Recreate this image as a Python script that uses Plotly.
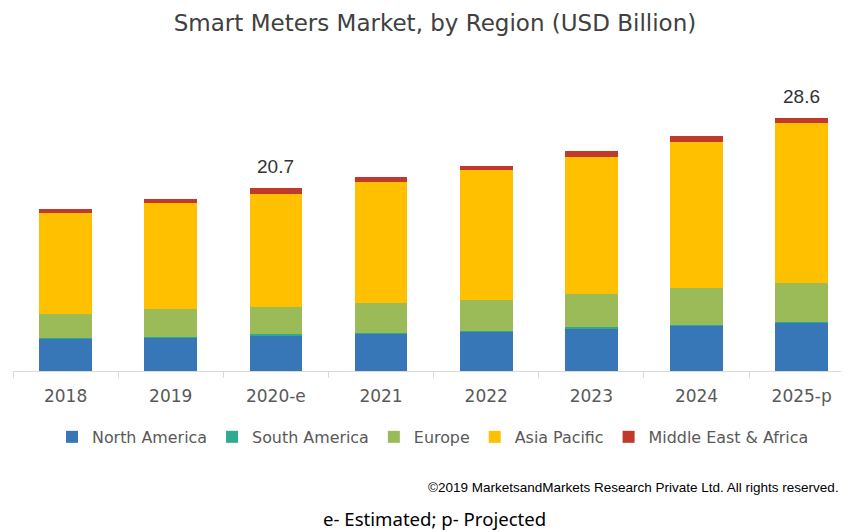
import plotly.graph_objects as go

years = ["2018", "2019", "2020-e", "2021", "2022", "2023", "2024", "2025-p"]
north_america = [3.62, 3.77, 4.07, 4.27, 4.50, 4.84, 5.13, 5.45]
south_america = [0.06, 0.06, 0.07, 0.07, 0.08, 0.08, 0.09, 0.09]
europe = [2.80, 3.18, 3.15, 3.35, 3.48, 3.80, 4.15, 4.45]
asia_pacific = [11.44, 12.00, 12.78, 13.65, 14.62, 15.46, 16.48, 18.00]
mea = [0.45, 0.49, 0.63, 0.57, 0.53, 0.68, 0.68, 0.61]
labelled = {"2020-e": "20.7", "2025-p": "28.6"}

series = [
    ("North America", north_america, "#3776B7"),
    ("South America", south_america, "#2EAA8E"),
    ("Europe", europe, "#9BBB59"),
    ("Asia Pacific", asia_pacific, "#FFC000"),
    ("Middle East & Africa", mea, "#C0392B"),
]

W, H = 841, 524  # page body adds an 8px margin in the browser

fig = go.Figure()
for name, vals, col in series:
    fig.add_trace(go.Bar(x=years, y=vals, name=name, marker_color=col,
                         marker_line_width=0, width=0.5))

totals = [sum(v) for v in zip(north_america, south_america, europe, asia_pacific, mea)]
for yr, tot in zip(years, totals):
    if yr in labelled:
        fig.add_annotation(x=yr, y=tot, text=labelled[yr], showarrow=False,
                           yanchor="bottom", yshift=9,
                           font=dict(family="Liberation Sans", size=19, color="#333333"))

fig.add_annotation(xref="paper", yref="paper", x=0.99, y=-0.41,
                   xanchor="right", yanchor="middle", showarrow=False,
                   text="©2019 MarketsandMarkets Research Private Ltd. All rights reserved.",
                   font=dict(family="Liberation Sans", size=13.5, color="#000000"))
fig.add_annotation(xref="paper", yref="paper", x=0.5036, y=-0.52,
                   xanchor="center", yanchor="middle", showarrow=False,
                   text="e- Estimated; p- Projected",
                   font=dict(family="Noto Sans", size=18.6, color="#000000"))

fig.update_layout(
    width=W, height=H,
    margin=dict(l=5, r=0, t=80, b=161),
    barmode="stack",
    plot_bgcolor="white", paper_bgcolor="white",
    title=dict(text="Smart Meters Market, by Region (USD Billion)",
               x=427 / W, xref="container", xanchor="center",
               y=1 - 15 / H, yref="container", yanchor="middle",
               font=dict(family="DejaVu Sans", size=23, color="#404040")),
    legend=dict(orientation="h", x=44 / W, xref="container", xanchor="left",
                y=1 - 429 / H, yref="container", yanchor="middle",
                font=dict(family="DejaVu Sans", size=15.9, color="#595959"),
                itemwidth=30, traceorder="normal"),
    showlegend=True,
)
fig.update_xaxes(type="category", range=[-0.5, 7.45], showline=True,
                 linecolor="#D9D9D9", linewidth=1, ticks="outside",
                 tickson="boundaries", ticklen=6, tickcolor="#D9D9D9",
                 showgrid=False, ticklabelstandoff=10,
                 tickfont=dict(family="DejaVu Sans", size=17, color="#595959"))
fig.update_yaxes(range=[0, 32], visible=False, showgrid=False)

fig.write_html("out.html")
